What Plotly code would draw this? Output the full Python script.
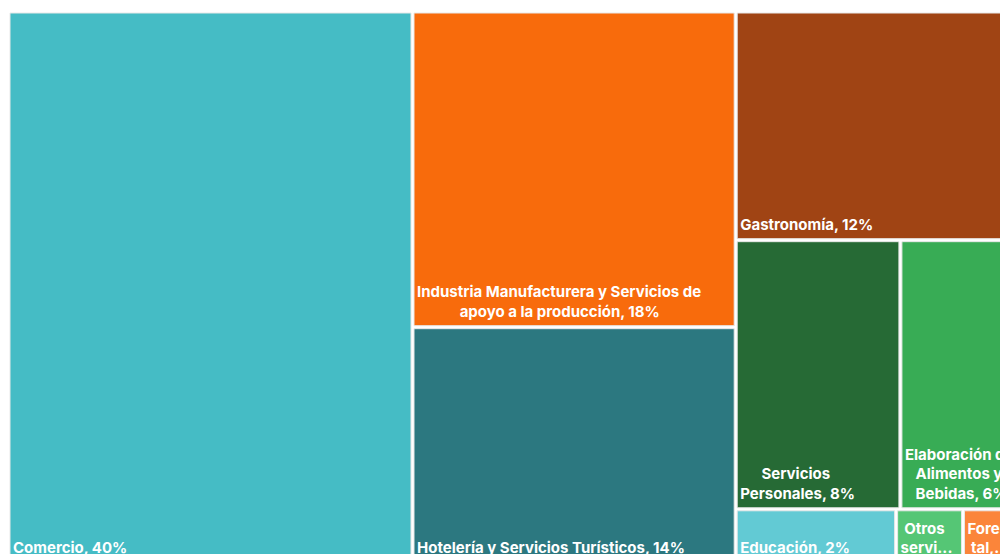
import plotly.graph_objects as go

# ---- Data (shares of total) ----
labels = [
    "Comercio",
    "Industria Manufacturera y Servicios de apoyo a la producción",
    "Hotelería y Servicios Turísticos",
    "Gastronomía",
    "Servicios Personales",
    "Elaboración de Alimentos y Bebidas",
    "Educación",
    "Otros servicios",
    "Forestal",
]
values = [40.0, 18.3, 13.7, 11.6, 7.95, 5.7, 1.56, 0.65, 0.54]
# Label lines as displayed in the reference
display_lines = [
    ["Comercio, 40%"],
    ["Industria Manufacturera y Servicios de", "apoyo a la producción, 18%"],
    ["Hotelería y Servicios Turísticos, 14%"],
    ["Gastronomía, 12%"],
    ["Servicios", "Personales, 8%"],
    ["Elaboración de", "Alimentos y", "Bebidas, 6%"],
    ["Educación, 2%"],
    ["Otros", "servi..."],
    ["Fores", "tal,..."],
]

# ---- Styling ----
colors = [
    "#45bcc5",
    "#f86b0c",
    "#2c7880",
    "#a04414",
    "#266a35",
    "#38ac55",
    "#62cad4",
    "#55c675",
    "#fb853a",
]
# leading non-breaking spaces per line to centre shorter lines in each block
line_indents = [
    [0],
    [0, 12],
    [0],
    [0],
    [6, 0],
    [0, 3, 3],
    [0],
    [1, 0],
    [0, 1],
]
NBSP = "\u00a0"
# an invisible tall space at the end lifts each label off the cell's bottom edge
LIFT = '<span style="font-size:24px">' + NBSP + "</span>"


def build_text(lines, indents):
    out = [NBSP * n + ln for ln, n in zip(lines, indents)]
    out[-1] = out[-1] + LIFT
    return "<br>".join(out)


text = [build_text(l, i) for l, i in zip(display_lines, line_indents)]

fig = go.Figure(
    go.Treemap(
        labels=labels,
        parents=[""] * len(labels),
        values=values,
        text=text,
        textinfo="text",
        textposition="bottom left",
        textfont=dict(family="Inter", size=15, color="white", weight="bold"),
        marker=dict(
            colors=colors,
            line=dict(color="#e8e8e8", width=1),
            pad=dict(t=0, l=0, r=0, b=0),
        ),
        tiling=dict(packing="squarify", squarifyratio=1.35),
        pathbar=dict(visible=False),
        sort=True,
        hoverinfo="label+value",
    )
)

# page body margin is removed below, so the figure starts at the page corner
fig.update_layout(
    width=1020,
    height=567,
    margin=dict(l=10, r=3, t=13, b=5),
    paper_bgcolor="white",
    uniformtext=dict(minsize=15, mode="show"),
)

fig.write_html(
    "out.html",
    config={"displayModeBar": False},
    default_width="1020px",
    default_height="567px",
    post_script=(
        "document.body.style.margin='0';"
        "document.documentElement.style.overflow='hidden';"
    ),
)
